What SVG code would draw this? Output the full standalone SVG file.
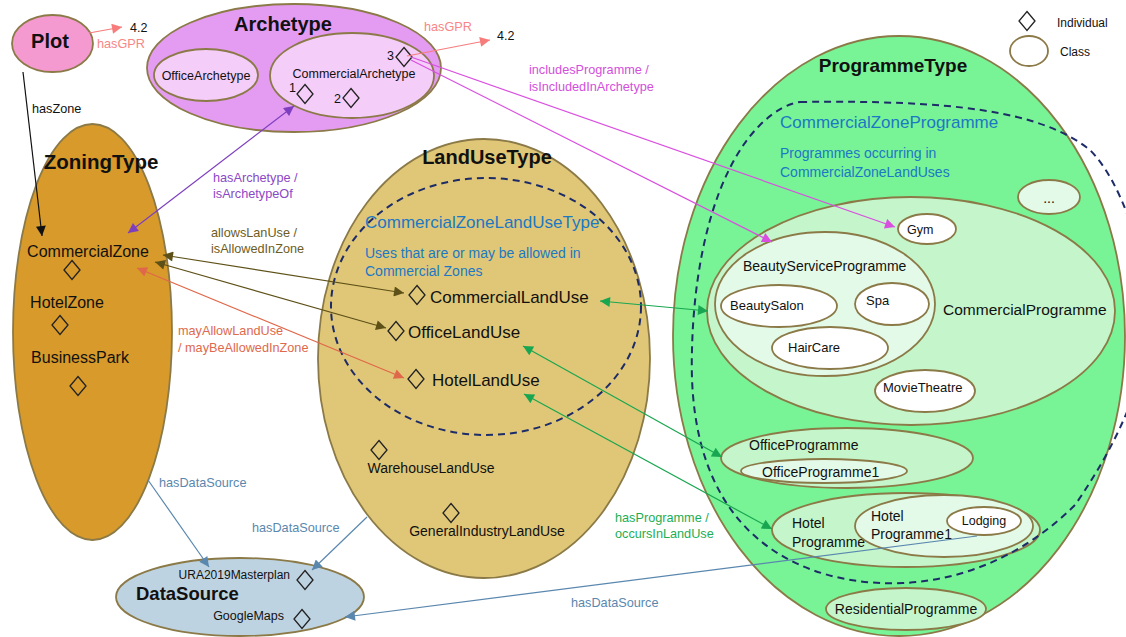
<svg xmlns="http://www.w3.org/2000/svg" width="1126" height="637" viewBox="0 0 1126 637">
<style>
text{font-family:"Liberation Sans",Arial,sans-serif;fill:#111}
.n{stroke:#8b7a47;stroke-width:1.8}
.t{font-weight:bold}
.el{font-size:12.7px}
.d{fill:none;stroke:#222;stroke-width:1.3}
.dash{fill:none;stroke:#1d2c68;stroke-width:2;stroke-dasharray:7 5}
.blue{fill:#1b78c4}
.c{fill:none;stroke-width:1.2}
</style>
<defs>
<path id="dia" d="M0,-9.5 L8,0 L0,9.5 L-8,0 Z"/>
<marker id="mSal" viewBox="0 0 10 10" refX="10" refY="5" markerWidth="12" markerHeight="10" markerUnits="userSpaceOnUse" orient="auto-start-reverse"><path d="M0,0 L10,5 L0,10 Z" fill="#f77c7c"/></marker>
<marker id="mBlk" viewBox="0 0 10 10" refX="10" refY="5" markerWidth="12" markerHeight="10" markerUnits="userSpaceOnUse" orient="auto-start-reverse"><path d="M0,0 L10,5 L0,10 Z" fill="#111"/></marker>
<marker id="mPur" viewBox="0 0 10 10" refX="10" refY="5" markerWidth="12" markerHeight="10" markerUnits="userSpaceOnUse" orient="auto-start-reverse"><path d="M0,0 L10,5 L0,10 Z" fill="#7e3fbf"/></marker>
<marker id="mOli" viewBox="0 0 10 10" refX="10" refY="5" markerWidth="12" markerHeight="10" markerUnits="userSpaceOnUse" orient="auto-start-reverse"><path d="M0,0 L10,5 L0,10 Z" fill="#5e5118"/></marker>
<marker id="mRed" viewBox="0 0 10 10" refX="10" refY="5" markerWidth="12" markerHeight="10" markerUnits="userSpaceOnUse" orient="auto-start-reverse"><path d="M0,0 L10,5 L0,10 Z" fill="#e0684a"/></marker>
<marker id="mMag" viewBox="0 0 10 10" refX="10" refY="5" markerWidth="12" markerHeight="10" markerUnits="userSpaceOnUse" orient="auto-start-reverse"><path d="M0,0 L10,5 L0,10 Z" fill="#d94fe0"/></marker>
<marker id="mGrn" viewBox="0 0 10 10" refX="10" refY="5" markerWidth="12" markerHeight="10" markerUnits="userSpaceOnUse" orient="auto-start-reverse"><path d="M0,0 L10,5 L0,10 Z" fill="#19a650"/></marker>
<marker id="mBlu" viewBox="0 0 10 10" refX="10" refY="5" markerWidth="12" markerHeight="10" markerUnits="userSpaceOnUse" orient="auto-start-reverse"><path d="M0,0 L10,5 L0,10 Z" fill="#5a87ae"/></marker>
</defs>
<rect width="1126" height="637" fill="#fff"/>

<g id="legend">
<use href="#dia" x="1027" y="21" class="d"/>
<text x="1057" y="27" font-size="12">Individual</text>
<ellipse cx="1029" cy="51" rx="19" ry="15" fill="none" class="n"/>
<text x="1060" y="56" font-size="12">Class</text>
</g>

<g id="Plot">
<ellipse cx="52.5" cy="43.5" rx="40.5" ry="28.5" fill="#f49ad0" class="n"/>
<text x="50" y="48" font-size="20" class="t" text-anchor="middle">Plot</text>
</g>

<g id="Archetype">
<ellipse cx="294" cy="68" rx="147" ry="64" fill="#e49cf3" class="n"/>
<text x="283" y="31" font-size="20" class="t" text-anchor="middle">Archetype</text>
</g>
<g id="OfficeArchetype">
<ellipse cx="206" cy="75" rx="52" ry="26" fill="#f4cdf9" class="n"/>
<text x="206" y="80" font-size="12.5" text-anchor="middle">OfficeArchetype</text>
</g>
<g id="CommercialArchetype">
<ellipse cx="352" cy="75.5" rx="82" ry="42.5" fill="#f4cdf9" class="n"/>
<text x="354" y="78" font-size="12.5" text-anchor="middle">CommercialArchetype</text>
<text x="289" y="92" font-size="12.5">1</text>
<use href="#dia" x="305" y="94" class="d"/>
<text x="334" y="103" font-size="12.5">2</text>
<use href="#dia" x="351" y="98" class="d"/>
<text x="387" y="60" font-size="12.5">3</text>
<use href="#dia" x="404" y="57" class="d"/>
</g>
<g id="GPR1"><text x="130" y="32" font-size="12.5">4.2</text></g>
<g id="GPR2"><text x="497" y="40" font-size="12.5">4.2</text></g>

<g id="ZoningType">
<ellipse cx="92.5" cy="332" rx="79.5" ry="208" fill="#d79a2b" class="n"/>
<text x="101" y="169" font-size="20.5" class="t" text-anchor="middle">ZoningType</text>
</g>
<g id="CommercialZone">
<text x="88" y="257" font-size="16" text-anchor="middle">CommercialZone</text>
<use href="#dia" x="72" y="270" class="d"/>
</g>
<g id="HotelZone">
<text x="67" y="308" font-size="16" text-anchor="middle">HotelZone</text>
<use href="#dia" x="60" y="325" class="d"/>
</g>
<g id="BusinessPark">
<text x="80" y="363" font-size="16" text-anchor="middle">BusinessPark</text>
<use href="#dia" x="78" y="386" class="d"/>
</g>

<g id="LandUseType">
<ellipse cx="484" cy="358.5" rx="166" ry="219.5" fill="#e0c777" class="n"/>
<text x="487" y="164" font-size="20" class="t" text-anchor="middle">LandUseType</text>
</g>
<g id="CommercialZoneLandUseType">
<ellipse cx="486" cy="306.5" rx="155" ry="128.5" class="dash"/>
<text x="365" y="228" font-size="17" class="blue">CommercialZoneLandUseType</text>
<text x="365" y="258" font-size="14" class="blue">Uses that are or may be allowed in</text>
<text x="365" y="276" font-size="14" class="blue">Commercial Zones</text>
</g>
<g id="CommercialLandUse">
<use href="#dia" x="417" y="295" class="d"/>
<text x="430" y="303" font-size="17">CommercialLandUse</text>
</g>
<g id="OfficeLandUse">
<use href="#dia" x="396" y="331" class="d"/>
<text x="408" y="338" font-size="17">OfficeLandUse</text>
</g>
<g id="HotelLandUse">
<use href="#dia" x="416" y="379" class="d"/>
<text x="432" y="386" font-size="17">HotelLandUse</text>
</g>
<g id="WarehouseLandUse">
<use href="#dia" x="379" y="450" class="d"/>
<text x="431" y="473" font-size="14" text-anchor="middle">WarehouseLandUse</text>
</g>
<g id="GeneralIndustryLandUse">
<use href="#dia" x="451" y="513" class="d"/>
<text x="487" y="536" font-size="14" text-anchor="middle">GeneralIndustryLandUse</text>
</g>

<g id="DataSource">
<ellipse cx="240" cy="597" rx="124" ry="39" fill="#bed3e1" class="n"/>
<text x="136" y="600" font-size="18.5" class="t">DataSource</text>
</g>
<g id="URA2019Masterplan">
<text x="290" y="579" font-size="12" text-anchor="end">URA2019Masterplan</text>
<use href="#dia" x="305" y="580" class="d"/>
</g>
<g id="GoogleMaps">
<text x="284" y="620" font-size="12.5" text-anchor="end">GoogleMaps</text>
<use href="#dia" x="302" y="619" class="d"/>
</g>

<g id="ProgrammeType">
<ellipse cx="899" cy="336" rx="226" ry="300" fill="#78f396" class="n"/>
<text x="893" y="72" font-size="19" class="t" text-anchor="middle">ProgrammeType</text>
</g>
<g id="Other">
<ellipse cx="1049" cy="197" rx="31" ry="17" fill="#e3fae9" class="n"/>
<text x="1049" y="203" font-size="14" text-anchor="middle">...</text>
</g>
<g id="CommercialProgramme">
<ellipse cx="911" cy="311" rx="204" ry="114" fill="#c5f6cb" class="n"/>
<text x="943" y="315" font-size="15.5">CommercialProgramme</text>
</g>
<g id="BeautyServiceProgramme">
<ellipse cx="825" cy="304" rx="110" ry="72" fill="#e3fae9" class="n"/>
<text x="743" y="271" font-size="14">BeautyServiceProgramme</text>
</g>
<g id="BeautySalon">
<ellipse cx="779" cy="306" rx="58" ry="21" fill="#fff" class="n"/>
<text x="730" y="310" font-size="13">BeautySalon</text>
</g>
<g id="Spa">
<ellipse cx="892" cy="304" rx="37" ry="21" fill="#fff" class="n"/>
<text x="866" y="305" font-size="13">Spa</text>
</g>
<g id="HairCare">
<ellipse cx="830" cy="348" rx="58" ry="21" fill="#fff" class="n"/>
<text x="788" y="352" font-size="13">HairCare</text>
</g>
<g id="Gym">
<ellipse cx="927" cy="229" rx="29" ry="15" fill="#fff" class="n"/>
<text x="907" y="234" font-size="12.5">Gym</text>
</g>
<g id="MovieTheatre">
<ellipse cx="925" cy="391" rx="50" ry="21" fill="#fff" class="n"/>
<text x="883" y="392" font-size="13">MovieTheatre</text>
</g>
<g id="OfficeProgramme">
<ellipse cx="847" cy="458" rx="126" ry="30" fill="#c5f6cb" class="n"/>
<text x="749" y="450" font-size="14">OfficeProgramme</text>
</g>
<g id="OfficeProgramme1">
<ellipse cx="824" cy="471" rx="83" ry="12" fill="#e3fae9" class="n"/>
<text x="762" y="477" font-size="14">OfficeProgramme1</text>
</g>
<g id="HotelProgramme">
<ellipse cx="906" cy="530" rx="134" ry="37" fill="#c5f6cb" class="n"/>
<text x="792" y="528" font-size="14">Hotel</text>
<text x="792" y="547" font-size="14">Programme</text>
</g>
<g id="HotelProgramme1">
<ellipse cx="944" cy="526" rx="89" ry="31" fill="#e3fae9" class="n"/>
<text x="871" y="521" font-size="14">Hotel</text>
<text x="871" y="539" font-size="14">Programme1</text>
</g>
<g id="Lodging">
<ellipse cx="984" cy="521" rx="37" ry="14" fill="#fff" class="n"/>
<text x="984" y="525" font-size="12.5" text-anchor="middle">Lodging</text>
</g>
<g id="CommercialZoneProgramme">
<path class="dash" d="M800 102 C950 100 1040 110 1090 150 C1120 180 1145 250 1150 320 C1145 380 1120 440 1075 505 C1030 550 970 580 903 583 C830 586 770 560 735 515 C700 470 690 410 692 350 C694 260 715 170 760 125 C775 110 790 103 800 102 Z"/>
<text x="780" y="128" font-size="17" class="blue">CommercialZoneProgramme</text>
<text x="780" y="158" font-size="14" class="blue">Programmes occurring in</text>
<text x="780" y="177" font-size="14" class="blue">CommercialZoneLandUses</text>
</g>
<g id="ResidentialProgramme">
<ellipse cx="906" cy="609" rx="80" ry="21" fill="#c5f6cb" class="n"/>
<text x="906" y="614" font-size="14" text-anchor="middle">ResidentialProgramme</text>
</g>

<g id="connectors">
<line x1="89" y1="33" x2="122" y2="27" class="c" stroke="#f77c7c" marker-end="url(#mSal)"/>
<text x="97" y="48" class="el" style="fill:#f78686">hasGPR</text>
<line x1="407" y1="56" x2="490" y2="40" class="c" stroke="#f77c7c" marker-end="url(#mSal)"/>
<text x="424" y="31" class="el" style="fill:#f78686">hasGPR</text>

<line x1="23" y1="72" x2="42" y2="236" class="c" stroke="#111" marker-end="url(#mBlk)"/>
<text x="32" y="113" class="el">hasZone</text>

<line x1="128" y1="233" x2="294" y2="106" class="c" stroke="#7e3fbf" marker-start="url(#mPur)" marker-end="url(#mPur)"/>
<text x="213" y="182" class="el" style="fill:#8b48c6">hasArchetype /</text>
<text x="213" y="198" class="el" style="fill:#8b48c6">isArchetypeOf</text>

<line x1="163" y1="255" x2="404" y2="293" class="c" stroke="#5e5118" marker-start="url(#mOli)" marker-end="url(#mOli)"/>
<line x1="155" y1="262" x2="386" y2="328" class="c" stroke="#5e5118" marker-start="url(#mOli)" marker-end="url(#mOli)"/>
<text x="211" y="237" class="el" style="fill:#6d5d24">allowsLanUse /</text>
<text x="211" y="253" class="el" style="fill:#6d5d24">isAllowedInZone</text>

<line x1="137" y1="268" x2="404" y2="378" class="c" stroke="#e0684a" marker-start="url(#mRed)" marker-end="url(#mRed)"/>
<text x="178" y="335" class="el" style="fill:#e0694c">mayAllowLandUse</text>
<text x="178" y="352" class="el" style="fill:#e0694c">/ mayBeAllowedInZone</text>

<line x1="411" y1="57" x2="895" y2="227" class="c" stroke="#d94fe0" marker-end="url(#mMag)"/>
<line x1="411" y1="60" x2="772" y2="242" class="c" stroke="#d94fe0" marker-end="url(#mMag)"/>
<text x="529" y="74" class="el" style="fill:#d44edc">includesProgramme /</text>
<text x="529" y="91" class="el" style="fill:#d44edc">isIncludedInArchetype</text>

<line x1="600" y1="301" x2="708" y2="311" class="c" stroke="#19a650" marker-start="url(#mGrn)" marker-end="url(#mGrn)"/>
<line x1="523" y1="346" x2="722" y2="457" class="c" stroke="#19a650" marker-start="url(#mGrn)" marker-end="url(#mGrn)"/>
<line x1="524" y1="394" x2="772" y2="529" class="c" stroke="#19a650" marker-start="url(#mGrn)" marker-end="url(#mGrn)"/>
<text x="615" y="522" class="el" style="fill:#1cae55">hasProgramme /</text>
<text x="615" y="538" class="el" style="fill:#1cae55">occursInLandUse</text>

<line x1="148" y1="480" x2="209" y2="567" class="c" stroke="#5a87ae" marker-end="url(#mBlu)"/>
<text x="159" y="487" class="el" style="fill:#5a87ae">hasDataSource</text>
<line x1="367" y1="517" x2="312" y2="570" class="c" stroke="#5a87ae" marker-end="url(#mBlu)"/>
<text x="252" y="532" class="el" style="fill:#5a87ae">hasDataSource</text>
<line x1="977" y1="536" x2="345" y2="617" class="c" stroke="#5a87ae" marker-end="url(#mBlu)"/>
<text x="571" y="607" class="el" style="fill:#5a87ae">hasDataSource</text>
</g>
</svg>
